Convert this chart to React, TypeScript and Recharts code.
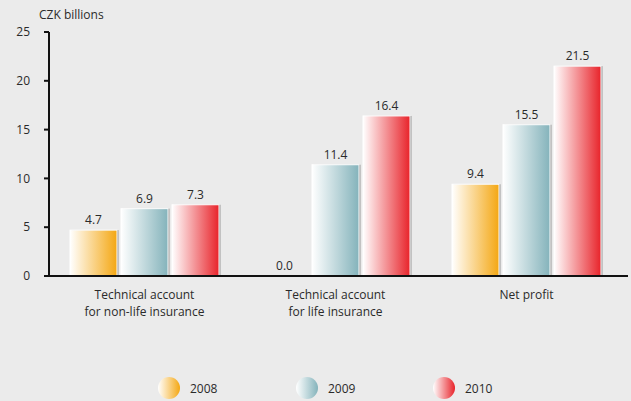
import { BarChart, Bar, XAxis, YAxis, LabelList, Legend } from 'recharts';

const categories = [
  ['Technical account', 'for non-life insurance'],
  ['Technical account', 'for life insurance'],
  ['Net profit'],
];
const years = ['2008', '2009', '2010'];
const values2008 = [4.7, 0.0, 9.4];
const values2009 = [6.9, 11.4, 15.5];
const values2010 = [7.3, 16.4, 21.5];
const yTicks = [0, 5, 10, 15, 20, 25];

const colors: Record<string, string> = {
  '2008': '#f4a712',
  '2009': '#84b3bb',
  '2010': '#e8232a',
};

const data = categories.map((c, i) => ({
  name: c.join('\n'),
  '2008': values2008[i],
  '2009': values2009[i],
  '2010': values2010[i],
}));

const FONT = '"Open Sans", sans-serif';
const TEXT = '#2a2a2a';

const GradBar = (props: any) => {
  const { x, y, width, height, fill } = props;
  if (!height || height <= 0) return null;
  return (
    <g>
      <rect x={x + 1.5} y={y} width={width} height={height} fill="#999999" />
      <rect x={x} y={y} width={width} height={height} fill={fill} stroke="#ffffff" strokeWidth={1} />
    </g>
  );
};

const CatTick = (props: any) => {
  const { x, y, payload } = props;
  const lines = String(payload.value).split('\n');
  return (
    <g>
      {lines.map((l, i) => (
        <text
          key={i}
          x={x}
          y={y + 15 + i * 16.5}
          textAnchor="middle"
          fill={TEXT}
          fontSize={12}
          fontFamily={FONT}
        >
          {l}
        </text>
      ))}
    </g>
  );
};

const LegendContent = () => (
  <div style={{ position: 'relative', width: 631, height: 26 }}>
    {years.map((yr, i) => (
      <div
        key={yr}
        style={{
          position: 'absolute',
          left: [157, 295, 432][i],
          top: 0,
          display: 'flex',
          alignItems: 'center',
          fontFamily: FONT,
          fontSize: 12,
          color: TEXT,
        }}
      >
        <svg width={24} height={24}>
          <circle cx={12} cy={12} r={11} fill={`url(#g${yr})`} />
        </svg>
        <span style={{ marginLeft: 9 }}>{yr}</span>
      </div>
    ))}
  </div>
);

export default function App() {
  return (
    <div style={{ position: 'absolute', left: 0, top: 0, width: 631, height: 401, background: '#ebebeb' }}>
      <div style={{ position: 'absolute', left: 39, top: 6, fontFamily: FONT, fontSize: 12, color: TEXT }}>
        CZK billions
      </div>
      <BarChart
        width={631}
        height={401}
        data={data}
        margin={{ top: 32, right: 3, left: 0, bottom: 45 }}
        barGap={4}
        barSize={47}
      >
        <defs>
          {years.map((yr) => (
            <linearGradient key={yr} id={`g${yr}`} x1="0" y1="0" x2="1" y2="0">
              <stop offset="0%" stopColor="#ffffff" />
              <stop offset="100%" stopColor={colors[yr]} />
            </linearGradient>
          ))}
        </defs>
        <XAxis
          dataKey="name"
          tick={<CatTick />}
          tickLine={false}
          axisLine={{ stroke: '#111', strokeWidth: 2 }}
          height={50}
          padding={{ left: 0, right: 6 }}
          interval={0}
        />
        <YAxis
          domain={[0, 25]}
          ticks={yTicks}
          width={49}
          tickSize={5}
          tickMargin={14}
          axisLine={{ stroke: '#111', strokeWidth: 2 }}
          tickLine={{ stroke: '#111', strokeWidth: 2 }}
          tick={{ fill: TEXT, fontSize: 12, fontFamily: FONT }}
        />
        <Legend
          verticalAlign="bottom"
          height={30}
          content={<LegendContent />}
          wrapperStyle={{ top: 376, left: 0, bottom: 'auto', width: 631 }}
        />
        {years.map((yr) => (
          <Bar key={yr} dataKey={yr} fill={`url(#g${yr})`} shape={<GradBar />} isAnimationActive={false}>
            <LabelList
              dataKey={yr}
              position="top"
              offset={6}
              formatter={(v: any) => Number(v).toFixed(1)}
              style={{ fill: TEXT, fontSize: 12, fontFamily: FONT }}
            />
          </Bar>
        ))}
      </BarChart>
    </div>
  );
}
